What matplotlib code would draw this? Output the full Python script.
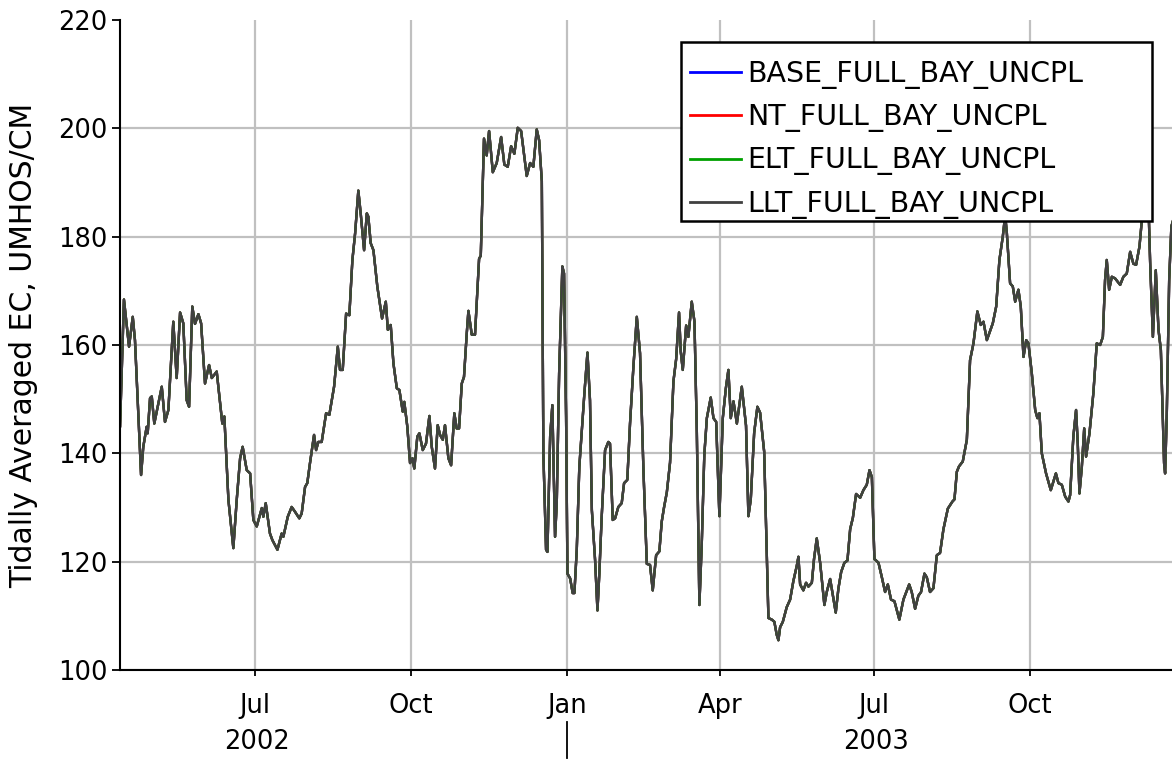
import matplotlib
matplotlib.use("Agg")
import matplotlib.pyplot as plt
import matplotlib.dates as mdates
import matplotlib.transforms as mtransforms
from matplotlib.patches import Rectangle
import pandas as pd

plt.rcParams['font.family'] = ['DejaVu Sans']

# ---------------- data ----------------
start_date = "2002-04-12"
# days since start_date
days = [
    0.4, 2.7, 5.7, 7.9, 9.2, 10.8, 12.8, 14.1, 16.1, 16.7, 18.1, 19.1, 20.6, 22.6, 25.0, 26.9, 28.9, 31.8,
    33.8, 35.8, 37.7, 39.7, 41.1, 43.0, 44.6, 46.6, 48.2, 50.5, 52.9, 54.5, 57.4, 60.7, 61.9, 64.3, 67.2,
    69.2, 71.2, 72.7, 75.1, 77.1, 79.0, 81.0, 84.0, 84.9, 86.3, 88.8, 90.2, 93.2, 95.7, 96.7, 99.3, 101.6, 103.6,
    106.1, 107.5, 109.5, 110.8, 112.4, 114.8, 116.0, 117.3, 119.3, 121.9, 123.8, 126.6, 128.8, 130.1, 131.7,
    133.7, 135.6, 137.4, 139.0, 140.9, 142.3, 144.3, 145.9, 146.8, 148.2, 149.8, 152.1, 154.9, 157.1, 158.3,
    160.0, 161.6, 163.6, 165.1, 167.1, 168.0, 169.8, 171.4, 172.8, 173.9, 175.7, 176.9, 178.9, 180.8, 182.8,
    184.2, 186.1, 187.7, 189.1, 190.7, 192.0, 194.0, 195.6, 197.5, 198.9, 200.3, 201.9, 203.2,
    204.8, 205.8, 207.8, 209.7, 212.1, 213.1, 215.0, 216.6, 218.0, 220.2, 222.5, 225.1, 227.0, 229.0, 231.0,
    232.9, 234.9, 236.9, 240.2, 242.2, 244.1, 246.1, 247.5, 249.1,
    250.0, 251.6, 252.4, 254.0, 255.3, 256.9, 257.9, 259.3, 261.2, 262.2, 263.4, 264.2, 265.8, 267.3, 268.3,
    269.7, 271.2, 272.7, 274.2, 276.0, 277.5, 278.6, 280.5, 281.9, 283.0, 284.4, 286.4, 288.3, 289.3, 290.9,
    292.3, 294.2, 296.2, 297.6, 299.5, 301.1, 303.1, 305.1, 307.0, 309.0, 311.0, 312.9, 314.5, 316.5, 318.4,
    319.8, 321.2, 322.8, 324.7, 326.7, 328.3, 330.0, 331.0, 332.2, 334.2, 335.5, 337.5, 339.1, 340.5, 342.0,
    343.4, 344.9, 346.4, 348.7, 350.3, 351.9, 353.8, 355.8, 357.6, 359.1, 360.5, 362.1, 364.1, 367.0, 369.5,
    370.9, 372.3, 374.3, 376.2, 377.8, 380.2, 381.3, 382.7, 384.7, 386.2, 387.6, 388.6, 389.6, 391.2, 393.5,
    395.5, 397.4, 399.4, 400.4, 401.4, 403.3, 404.9, 406.3, 408.3, 409.6, 411.2, 413.2,
    415.7, 417.1, 419.1, 420.4, 422.4, 424.0, 425.6, 427.5, 429.3, 430.9, 432.5, 434.4, 436.8, 438.7, 440.7,
    442.3, 443.7, 445.2, 447.6, 449.6, 451.5, 453.1, 455.0, 457.0, 459.9, 462.3, 465.7, 467.2, 469.2, 471.1,
    472.7, 474.7, 476.1, 478.0, 480.0, 482.0, 483.9, 485.9, 488.5, 491.2, 492.4, 493.8, 495.1, 497.3,
    499.7, 501.6, 503.6, 505.9, 507.9, 509.5, 511.5, 515.0, 517.0, 518.9, 520.9, 522.3, 523.3, 525.2, 526.8,
    528.2, 530.1, 531.5, 533.1, 534.7, 536.0, 538.0, 540.0, 541.3, 542.5, 543.9, 546.4, 549.2, 552.2, 553.7,
    555.7, 557.7, 559.6, 560.6, 562.5, 564.1, 565.1, 566.1, 567.5, 568.9, 570.0, 572.0, 574.3, 576.3, 578.3,
    579.9, 581.2, 582.2, 583.6, 585.2, 587.1, 590.1, 592.0, 594.0, 596.0, 597.9, 599.5, 601.5, 602.9, 604.8,
    606.6, 607.8, 609.4, 611.1, 612.7, 614.1, 616.0, 616.6, 617.6, 619.0, 620.3, 621.3,
]

# tidally averaged EC (umhos/cm); the four scenarios are visually identical
ec = [
    145.0, 168.4, 159.7, 165.2, 160.9, 149.8, 136.0, 141.2, 144.9, 143.7, 150.2, 150.5, 145.5, 148.6, 152.3,
    145.8, 148.0, 164.3, 153.9, 166.0, 164.0, 149.8, 148.6, 167.1, 163.9, 165.7, 164.0, 152.9, 156.3, 153.9,
    155.1, 145.5, 146.8, 131.4, 122.5, 131.4, 139.1, 141.2, 136.9, 136.3, 127.7, 126.5, 129.9, 128.3, 130.8,
    125.2, 124.0, 122.2, 125.2, 124.6, 128.3, 130.1, 129.2,
    128.0, 128.9, 133.8, 134.5, 138.2, 143.4, 140.6, 142.1, 142.1, 147.4, 147.1, 152.3, 159.7, 155.4, 155.4,
    165.8, 165.5, 175.7, 180.6, 188.5, 184.3, 177.5, 184.3, 183.7, 178.8, 177.5, 170.8, 164.9, 168.0, 162.8,
    163.7, 156.6, 152.0, 151.7, 147.7, 149.5, 144.9, 138.2, 139.1, 137.2, 143.1, 143.7, 140.6, 141.8, 146.9,
    141.2, 137.2, 145.2, 143.4, 142.5, 145.2, 139.1, 137.8, 147.4, 144.6, 144.6, 152.9, 154.1,
    162.0, 166.3, 161.9, 161.9, 175.9, 176.5, 198.1, 195.0, 199.5, 191.9, 193.6, 198.4, 193.3, 192.9, 196.7,
    195.3, 200.1, 199.5, 191.2, 193.6, 192.9, 199.8, 197.8, 190.2,
    140.0, 122.2, 121.8, 143.1, 148.9, 124.6, 130.8, 154.8, 174.5, 173.2, 146.8, 117.8, 116.9, 114.2, 114.2,
    122.2, 137.5, 144.3, 151.1, 158.6, 149.8, 129.5, 120.3, 111.0, 117.8, 128.3, 140.6, 142.1, 141.8, 127.7,
    128.0, 130.1, 130.8, 134.5, 135.1, 145.5, 156.0, 165.2, 158.5, 137.0, 119.6, 119.4, 114.7, 121.2, 121.9,
    127.4, 130.1, 132.8, 138.3, 153.3, 157.4, 166.0, 158.8, 155.4, 163.6, 161.5, 168.0, 164.3, 143.8, 112.0,
    123.3, 139.7, 146.5, 150.3, 146.5, 145.8, 128.4, 146.5, 152.0, 155.4, 146.5, 149.6, 145.5, 152.3, 145.1,
    128.4, 131.5, 143.8, 148.6, 147.5, 140.3, 126.7, 109.6, 109.3, 108.9, 106.5, 105.5, 107.9, 108.9, 111.6,
    113.0, 116.4, 119.2, 120.9, 115.8, 114.7, 116.1, 115.4, 116.1, 120.5, 124.3, 119.8,
    112.0, 114.4, 116.8, 114.4, 110.6, 115.1, 118.1, 119.8, 120.2, 126.0, 128.1, 132.5, 131.8, 133.2, 134.2,
    136.9, 135.6, 120.5, 119.8, 117.1, 114.4, 115.8, 113.0, 112.7, 109.3, 113.0, 115.8, 114.4, 111.3, 113.7,
    114.4, 117.8, 117.1, 114.4, 115.1, 121.2, 121.6, 126.0, 129.8, 131.1, 131.5, 136.6, 137.6, 138.5,
    142.5, 157.2, 160.3, 166.2, 163.7, 164.3, 160.9, 164.0, 167.1, 175.7, 180.0, 184.0, 180.6, 171.4, 170.8,
    168.0, 170.2, 167.1, 157.8, 160.9, 160.3, 154.8, 148.0, 146.5, 147.4, 140.0, 136.3, 133.2, 136.3, 134.5,
    134.2, 132.0, 131.1, 132.3, 143.1, 148.0, 141.8, 132.6, 137.5, 144.6, 139.4, 143.7, 151.1, 160.3, 160.0,
    161.5, 172.0, 175.7, 170.2, 172.6, 172.3, 171.1, 172.6, 173.2, 177.2, 175.0, 174.8, 178.2, 183.1, 190.0,
    188.0, 175.0, 161.5, 173.8, 162.8, 159.1, 138.2, 136.3, 147.4, 172.0, 181.9, 183.0,
]

series_names = ["BASE_FULL_BAY_UNCPL", "NT_FULL_BAY_UNCPL", "ELT_FULL_BAY_UNCPL", "LLT_FULL_BAY_UNCPL"]
series_colors = ["#0000ff", "#ff0000", "#00a000", "#404040"]
y_ticks = [100, 120, 140, 160, 180, 200, 220]
x_start, x_end = "2002-04-12 09:00", "2003-12-23 16:00"
years = [2002, 2003]

dates = pd.Timestamp(start_date) + pd.to_timedelta(days, unit="D")

# ---------------- figure ----------------
W, H = 1172, 759
AX_L, AX_T, AX_R, AX_B = 120, 20, 1172, 670
AW, AH = AX_R - AX_L, AX_B - AX_T
fig = plt.figure(figsize=(W / 100, H / 100), dpi=100)
ax = fig.add_axes([AX_L / W, (H - AX_B) / H, AW / W, AH / H])


def ax_x(px):
    return (px - AX_L) / AW


def ax_y(py):
    return (AX_B - py) / AH


for name, col in zip(series_names, series_colors):
    ax.plot(dates, ec, color=col, lw=1.7, label=name, solid_joinstyle="round", zorder=2)

ax.set_ylim(100, 220)
ax.set_yticks(y_ticks)
ax.set_xlim(pd.Timestamp(x_start), pd.Timestamp(x_end))
ax.xaxis.set_major_locator(mdates.MonthLocator(bymonth=[1, 4, 7, 10]))
ax.xaxis.set_major_formatter(mdates.DateFormatter("%b"))

ax.grid(True, color="#c0c0c0", lw=1.6)
ax.set_axisbelow(True)
ygl = ax.yaxis.get_gridlines()
ygl[-1].set_visible(False)

for s in ["top", "right"]:
    ax.spines[s].set_visible(False)
for s in ["left", "bottom"]:
    ax.spines[s].set_linewidth(1.5)
    ax.spines[s].set_color("black")

FS = 18.5
ax.tick_params(axis="y", direction="out", length=6, width=1.3, pad=3, labelsize=FS)
ax.tick_params(axis="x", direction="out", length=4.5, width=1.3, pad=12, labelsize=FS)

ax.set_ylabel("Tidally Averaged EC, UMHOS/CM", fontsize=21.5)
ax.yaxis.set_label_coords(ax_x(38), 0.5)

# year row
trans = mtransforms.blended_transform_factory(ax.transData, ax.transAxes)
for yr in years:
    ax.text(pd.Timestamp(f"{yr}-07-02"), ax_y(742), str(yr), transform=trans,
            ha="center", va="center", fontsize=FS, clip_on=False)
for yr in years[1:]:
    d = pd.Timestamp(f"{yr}-01-01")
    ax.plot([d, d], [ax_y(722), ax_y(758)], transform=trans, color="black", lw=1.3, clip_on=False)

# legend box
ax.add_patch(Rectangle((ax_x(681), ax_y(221)), ax_x(1152) - ax_x(681), ax_y(42) - ax_y(221),
                       transform=ax.transAxes, facecolor="white", edgecolor="black", lw=1.8,
                       zorder=4, clip_on=False))
leg = ax.legend(loc="upper left", bbox_to_anchor=(ax_x(690), ax_y(60)),
                borderaxespad=0, fontsize=20.5, frameon=False, borderpad=0,
                handlelength=1.8, handletextpad=0.2, labelspacing=0.5)
leg.set_zorder(5)
for line in leg.get_lines():
    line.set_linewidth(2)

fig.savefig("out.png", dpi=100)
